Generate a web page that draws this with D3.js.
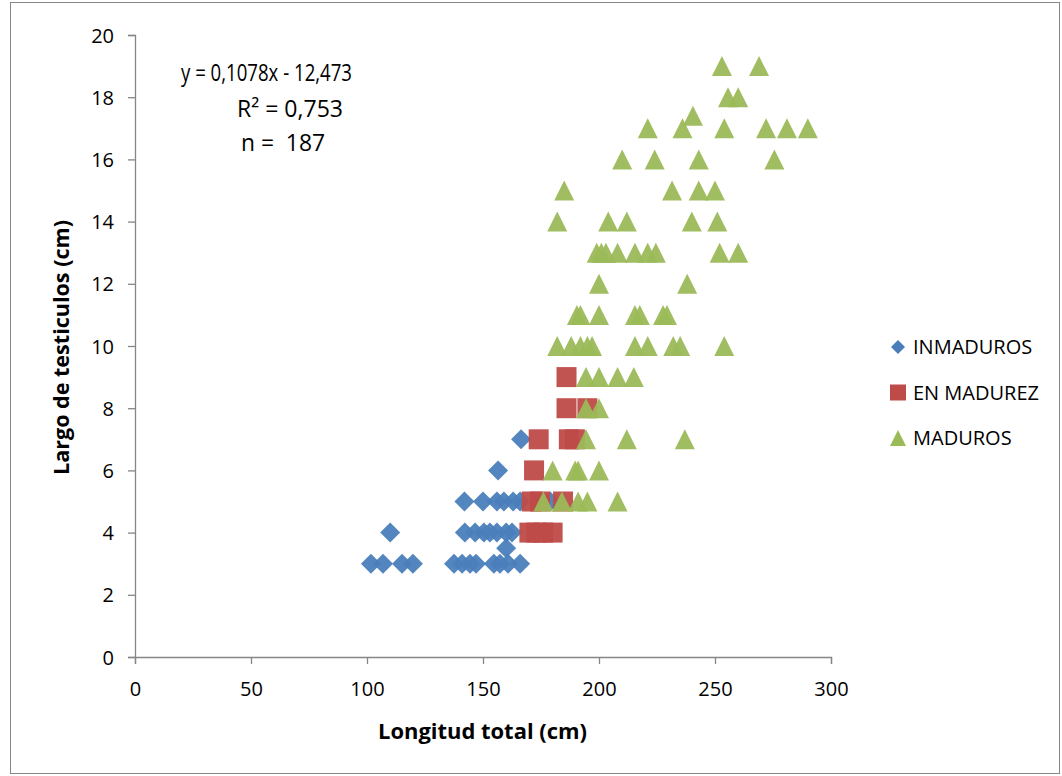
<!DOCTYPE html>
<html>
<head>
<meta charset="utf-8">
<script src="https://cdn.jsdelivr.net/npm/d3@7"></script>
<style>
  body { margin: 0; background: #fff; }
  text { font-family: "Open Sans", sans-serif; }
</style>
</head>
<body>
<div id="chart"></div>
<script>
// data
var inmadX = [101.7, 106.9, 115.1, 119.8, 137.5, 141, 144.4, 147, 154.7, 157.3, 160.8, 166,
              160,
              110, 142.2, 146.6, 150.4, 153, 156, 160, 162.5,
              142, 150, 156, 159, 163, 166, 179,
              156.5,
              166.4];
var inmadY = [3, 3, 3, 3, 3, 3, 3, 3, 3, 3, 3, 3,
              3.5,
              4, 4, 4, 4, 4, 4, 4, 4,
              5, 5, 5, 5, 5, 5, 5,
              6,
              7];

var enmadX = [170, 173, 176, 180, 171, 174.6, 184.5, 172, 174, 187, 189.6, 186, 195, 186];
var enmadY = [4, 4, 4, 4, 5, 5, 5, 6, 7, 7, 7, 8, 8, 9];

var madX = [253, 269,
            255.6, 260,
            240.5,
            221, 236, 254, 272, 281, 290,
            210, 224, 243, 275.6,
            185, 231.5, 243, 250,
            182, 204, 212, 240, 251,
            199, 201, 203, 208, 215.5, 221, 224.5, 252, 260,
            200, 238,
            190.5, 192, 200, 215.5, 217.6, 227.6, 229.3,
            182, 188, 192, 195, 197, 215.5, 221, 232, 235, 254,
            194.4, 200, 208, 215,
            194.4, 200,
            194.4, 212, 237,
            180, 189.7, 191, 200,
            176, 184, 191, 195, 208];
var madY = [19, 19,
            18, 18,
            17.4,
            17, 17, 17, 17, 17, 17,
            16, 16, 16, 16,
            15, 15, 15, 15,
            14, 14, 14, 14, 14,
            13, 13, 13, 13, 13, 13, 13, 13, 13,
            12, 12,
            11, 11, 11, 11, 11, 11, 11,
            10, 10, 10, 10, 10, 10, 10, 10, 10, 10,
            9, 9, 9, 9,
            8, 8,
            7, 7, 7,
            6, 6, 6, 6,
            5, 5, 5, 5, 5];

var xTicks = [0, 50, 100, 150, 200, 250, 300];
var yTicks = [0, 2, 4, 6, 8, 10, 12, 14, 16, 18, 20];
var seriesNames = ["INMADUROS", "EN MADUREZ", "MADUROS"];
var annotLines = ["y = 0,1078x - 12,473", "R\u00b2 = 0,753", "n =  187"];

var width = 1062, height = 776;
var colors = ["#4a7ebb", "#be4b48", "#9bbb59"];
var axisColor = "#868686";

var svg = d3.select("#chart").append("svg")
  .attr("width", width)
  .attr("height", height);

// outer border
svg.append("rect")
  .attr("x", 10.5).attr("y", 2.5)
  .attr("width", 1049).attr("height", 771)
  .attr("fill", "none").attr("stroke", axisColor).attr("stroke-width", 1);

var x = d3.scaleLinear().domain([0, 300]).range([135, 831]);
var y = d3.scaleLinear().domain([0, 20]).range([657, 35]);

// axes
var xAxis = svg.append("g")
  .attr("transform", "translate(0," + y(0) + ")")
  .call(d3.axisBottom(x).tickValues(xTicks).tickSize(7).tickPadding(18));
var yAxis = svg.append("g")
  .attr("transform", "translate(" + x(0) + ",0)")
  .call(d3.axisLeft(y).tickValues(yTicks).tickSize(7).tickPadding(14));

[xAxis, yAxis].forEach(function(a) {
  a.select(".domain").attr("stroke", axisColor).attr("stroke-width", 1.3);
  a.selectAll(".tick line").attr("stroke", axisColor).attr("stroke-width", 1.3);
  a.selectAll(".tick text")
    .attr("fill", "#000")
    .style("font-family", "'Open Sans', sans-serif")
    .style("font-size", "20px");
});
yAxis.selectAll(".tick text").attr("dy", "0.35em");

// marker shapes
function diamond(s) { return "M0," + (-s) + "L" + s + ",0L0," + s + "L" + (-s) + ",0Z"; }
function square(s) { return "M" + (-s) + "," + (-s) + "h" + (2 * s) + "v" + (2 * s) + "h" + (-2 * s) + "Z"; }
function triangle(s) { return "M0," + (-s) + "L" + s + "," + s + "L" + (-s) + "," + s + "Z"; }

function drawSeries(xs, ys, path, color) {
  var data = xs.map(function(v, i) { return [v, ys[i]]; });
  svg.append("g").selectAll("path").data(data).enter()
    .append("path")
    .attr("d", path)
    .attr("fill", color)
    .attr("fill-opacity", 0.95)
    .attr("transform", function(d) { return "translate(" + x(d[0]) + "," + y(d[1]) + ")"; });
}

drawSeries(inmadX, inmadY, diamond(10), colors[0]);
drawSeries(enmadX, enmadY, square(10), colors[1]);
drawSeries(madX, madY, triangle(10), colors[2]);

// annotation (narrow Calibri look squeezed with textLength)
var annotPos = [[181, 81], [237, 117], [241, 151]];
var annotLen = [171, 106, 84];
annotLines.forEach(function(t, i) {
  svg.append("text")
    .attr("x", annotPos[i][0]).attr("y", annotPos[i][1])
    .attr("textLength", annotLen[i])
    .attr("lengthAdjust", "spacingAndGlyphs")
    .style("font-size", "23px")
    .style("white-space", "pre")
    .text(t);
});

// legend
var legendShapes = [diamond(7), square(8), triangle(8)];
seriesNames.forEach(function(name, i) {
  var ly = 347 + i * 45.5;
  svg.append("path")
    .attr("d", legendShapes[i])
    .attr("fill", colors[i])
    .attr("transform", "translate(898," + ly + ")");
  svg.append("text")
    .attr("x", 913).attr("y", ly)
    .attr("dy", "0.35em")
    .style("font-size", "20px")
    .text(name);
});

// axis titles
svg.append("text")
  .attr("x", 378).attr("y", 739)
  .attr("textLength", 209)
  .attr("lengthAdjust", "spacingAndGlyphs")
  .style("font-size", "21px")
  .style("font-weight", "bold")
  .text("Longitud total (cm)");

svg.append("text")
  .attr("transform", "translate(69,475) rotate(-90)")
  .attr("textLength", 255)
  .attr("lengthAdjust", "spacingAndGlyphs")
  .style("font-size", "21px")
  .style("font-weight", "bold")
  .text("Largo de testiculos (cm)");
</script>
</body>
</html>
